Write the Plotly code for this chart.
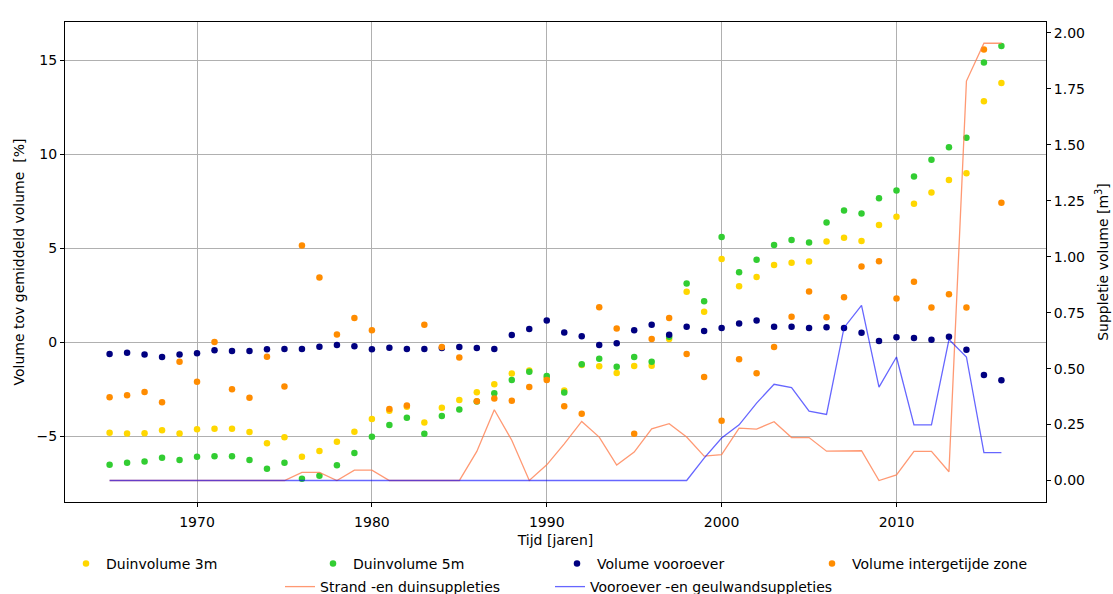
import plotly.graph_objects as go

# Jaarlijkse reeksen 1965-2016
years = list(range(1965, 2017))

duinvolume_3m = [
    -4.81, -4.85, -4.83, -4.67, -4.85, -4.62, -4.60, -4.60, -4.77, -5.36,
    -5.04, -6.08, -5.78, -5.29, -4.76, -4.08, -3.64, -3.42, -4.26, -3.48,
    -3.06, -2.65, -2.23, -1.66, -1.50, -1.90, -2.56, -1.20, -1.27, -1.63,
    -1.26, -1.24, 0.18, 2.69, 1.63, 4.44, 2.99, 3.48, 4.12, 4.23,
    4.30, 5.36, 5.57, 5.39, 6.24, 6.68, 7.37, 7.97, 8.63, 9.00,
    12.82, 13.79,
]

duinvolume_5m = [
    -6.51, -6.40, -6.33, -6.14, -6.26, -6.08, -6.06, -6.06, -6.26, -6.72,
    -6.40, -7.25, -7.09, -6.53, -5.89, -5.02, -4.40, -4.01, -4.86, -3.91,
    -3.57, -3.15, -2.71, -2.00, -1.56, -1.79, -2.67, -1.17, -0.87, -1.29,
    -0.78, -1.03, 0.30, 3.13, 2.19, 5.61, 3.73, 4.39, 5.18, 5.45,
    5.31, 6.37, 7.02, 6.86, 7.66, 8.08, 8.82, 9.71, 10.38, 10.88,
    14.89, 15.76,
]

volume_vooroever = [
    -0.62, -0.55, -0.64, -0.78, -0.65, -0.58, -0.42, -0.46, -0.46, -0.37,
    -0.35, -0.35, -0.23, -0.14, -0.21, -0.37, -0.28, -0.35, -0.35, -0.30,
    -0.25, -0.30, -0.35, 0.39, 0.71, 1.17, 0.53, 0.32, -0.14, -0.05,
    0.65, 0.94, 0.41, 0.83, 0.60, 0.76, 1.01, 1.17, 0.83, 0.83,
    0.76, 0.80, 0.76, 0.51, 0.07, 0.27, 0.23, 0.14, 0.30, -0.39,
    -1.73, -2.02,
]

volume_intergetijde = [
    -2.92, -2.81, -2.64, -3.18, -1.03, -2.10, 0.02, -2.49, -2.95, -0.76,
    -2.35, 5.15, 3.45, 0.42, 1.29, 0.64, -3.54, -3.36, 0.94, -0.25,
    -0.81, -3.13, -2.99, -3.11, -2.37, -2.00, -3.40, -3.80, 1.87, 0.74,
    -4.86, 0.18, 1.29, -0.62, -1.84, -4.17, -0.90, -1.64, -0.25, 1.36,
    2.71, 1.33, 2.40, 4.03, 4.31, 2.33, 3.22, 1.86, 2.56, 1.86,
    15.58, 7.43,
]

strand_duin_suppleties = [
    0, 0, 0, 0, 0, 0, 0, 0, 0, 0,
    0, 0.036, 0.036, 0, 0.046, 0.046, 0, 0, 0, 0,
    0, 0.13, 0.316, 0.18, 0, 0.07, 0.164, 0.264, 0.194, 0.069,
    0.127, 0.231, 0.254, 0.194, 0.109, 0.116, 0.234, 0.230, 0.263, 0.192,
    0.192, 0.131, 0.133, 0.133, 0.0, 0.025, 0.13, 0.13, 0.039, 1.785,
    1.954, 1.954,
]

vooroever_geulwand_suppleties = [
    0, 0, 0, 0, 0, 0, 0, 0, 0, 0,
    0, 0, 0, 0, 0, 0, 0, 0, 0, 0,
    0, 0, 0, 0, 0, 0, 0, 0, 0, 0,
    0, 0, 0, 0, 0.10, 0.19, 0.249, 0.346, 0.43, 0.415,
    0.31, 0.295, 0.683, 0.783, 0.417, 0.552, 0.249, 0.249, 0.63, 0.552,
    0.125, 0.125,
]

x_ticks = [1970, 1980, 1990, 2000, 2010]
y_ticks = [-5, 0, 5, 10, 15]
y2_ticks = [0, 0.25, 0.5, 0.75, 1.0, 1.25, 1.5, 1.75, 2.0]

FONT = "DejaVu Sans"
W, H = 1113, 594

fig = go.Figure()

# Punten (linker as), elk met een eigen legenda-vak op de eerste rij
scatter_series = [
    ("Duinvolume 3m", duinvolume_3m, "#FFD700", 66),
    ("Duinvolume 5m", duinvolume_5m, "#32CD32", 313),
    ("Volume vooroever", volume_vooroever, "#000080", 557),
    ("Volume intergetijde zone", volume_intergetijde, "#FF8C00", 812),
]
# Lijnen (rechter as), legenda op de tweede rij
line_series = [
    ("Strand -en duinsuppleties", strand_duin_suppleties, "rgba(255,127,80,0.8)", 280),
    ("Vooroever -en geulwandsuppleties", vooroever_geulwand_suppleties, "rgba(0,0,255,0.6)", 550),
]

legend_layout = {}
idx = 1


def legend_key(i):
    return "legend" if i == 1 else f"legend{i}"


for name, values, color, lx in scatter_series:
    key = legend_key(idx)
    fig.add_trace(go.Scatter(
        x=years, y=values, name=name, mode="markers",
        marker=dict(color=color, size=6.5, line=dict(width=0)),
        legend=key,
    ))
    legend_layout[key] = dict(
        orientation="h", xref="container", yref="container",
        x=lx / W, xanchor="left", y=1 - 564 / H, yanchor="middle",
        font=dict(family=FONT, size=14, color="black"),
        bgcolor="rgba(0,0,0,0)", borderwidth=0,
    )
    idx += 1

for name, values, color, lx in line_series:
    key = legend_key(idx)
    fig.add_trace(go.Scatter(
        x=years, y=values, name=name, mode="lines",
        line=dict(color=color, width=1.3),
        yaxis="y2", legend=key,
    ))
    legend_layout[key] = dict(
        orientation="h", xref="container", yref="container",
        x=lx / W, xanchor="left", y=1 - 587 / H, yanchor="middle",
        font=dict(family=FONT, size=14, color="black"),
        bgcolor="rgba(0,0,0,0)", borderwidth=0,
    )
    idx += 1

axis_common = dict(
    showline=True, linecolor="black", linewidth=1,
    ticks="outside", ticklen=4, tickcolor="black", tickwidth=1,
    tickfont=dict(family=FONT, size=14, color="black"),
    zeroline=False,
)

fig.update_layout(
    width=W, height=H,
    margin=dict(l=65, r=67, t=22, b=92, autoexpand=False),
    paper_bgcolor="white", plot_bgcolor="white",
    font=dict(family=FONT, size=14, color="black"),
    xaxis=dict(
        range=[1962.45, 2018.55], tickvals=x_ticks,
        showgrid=True, gridcolor="#b0b0b0", gridwidth=1,
        mirror=True, ticklabelstandoff=3,
        title=dict(text="Tijd [jaren]", font=dict(family=FONT, size=14), standoff=7),
        **axis_common,
    ),
    yaxis=dict(
        range=[-8.49, 17.04], tickvals=y_ticks,
        showgrid=True, gridcolor="#b0b0b0", gridwidth=1,
        mirror=True,
        title=dict(text="Volume tov gemiddeld volume  [%]", font=dict(family=FONT, size=14), standoff=8),
        **axis_common,
    ),
    yaxis2=dict(
        range=[-0.096, 2.049], tickvals=y2_ticks, tickformat=".2f",
        overlaying="y", side="right", showgrid=False,
        title=dict(text="Suppletie volume [m<sup>3</sup>]", font=dict(family=FONT, size=14), standoff=14),
        **axis_common,
    ),
    showlegend=True,
    **legend_layout,
)

fig.write_html("out.html")
